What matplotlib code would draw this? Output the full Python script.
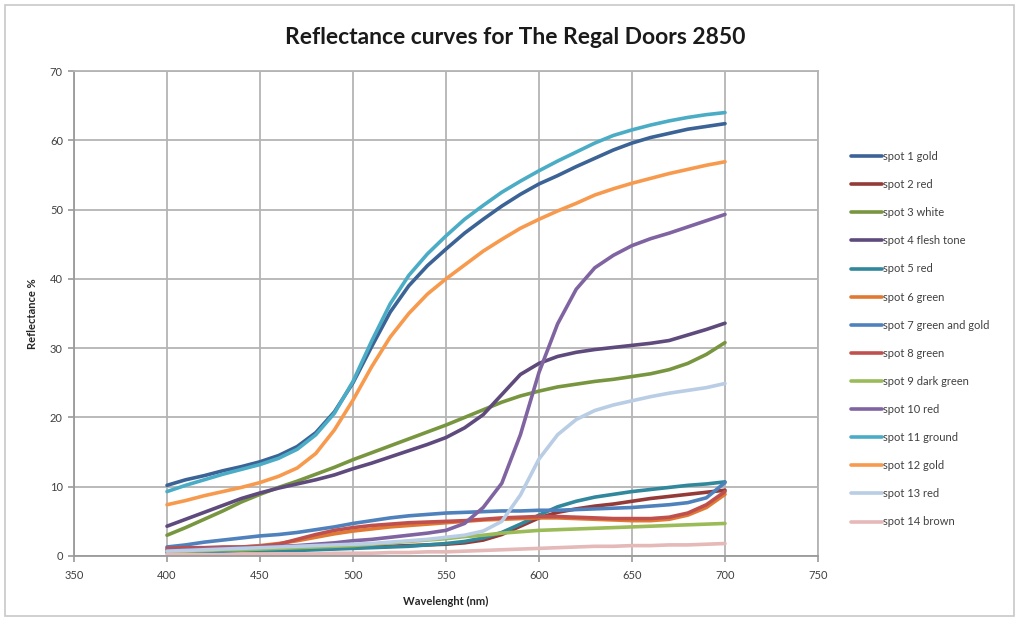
import matplotlib
matplotlib.use("Agg")
import matplotlib.pyplot as plt
from matplotlib.patches import Rectangle

plt.rcParams['font.family'] = ['Lato', 'DejaVu Sans']

# wavelengths (nm)
wl = list(range(400, 701, 10))

spot1 = [10.2, 11.0, 11.6, 12.3, 12.9, 13.6, 14.5, 15.8, 17.8, 20.8, 25.0, 30.2, 35.2, 39.0, 41.9, 44.3,
         46.6, 48.6, 50.5, 52.2, 53.7, 54.9, 56.2, 57.4, 58.6, 59.6, 60.4, 61.0, 61.6, 62.0, 62.4]
spot2 = [0.7, 0.7, 0.8, 0.8, 0.9, 0.9, 1.0, 1.0, 1.1, 1.1, 1.2, 1.3, 1.4, 1.5, 1.6, 1.7,
         1.9, 2.3, 3.1, 4.3, 5.5, 6.3, 6.8, 7.2, 7.5, 7.9, 8.3, 8.6, 8.9, 9.2, 9.5]
spot3 = [3.0, 4.1, 5.3, 6.5, 7.8, 8.9, 9.9, 10.8, 11.8, 12.8, 13.9, 14.9, 15.9, 16.9, 17.9, 18.9,
         20.0, 21.1, 22.2, 23.1, 23.8, 24.4, 24.8, 25.2, 25.5, 25.9, 26.3, 26.9, 27.8, 29.1, 30.8]
spot4 = [4.3, 5.3, 6.3, 7.3, 8.3, 9.1, 9.8, 10.4, 11.0, 11.7, 12.6, 13.4, 14.3, 15.2, 16.1, 17.1,
         18.5, 20.4, 23.3, 26.2, 27.8, 28.8, 29.4, 29.8, 30.1, 30.4, 30.7, 31.1, 31.9, 32.7, 33.6]
spot5 = [0.5, 0.5, 0.6, 0.6, 0.7, 0.7, 0.8, 0.8, 0.9, 1.0, 1.1, 1.2, 1.3, 1.4, 1.6, 1.8,
         2.1, 2.6, 3.4, 4.6, 5.9, 7.1, 7.9, 8.5, 8.9, 9.3, 9.6, 9.9, 10.2, 10.4, 10.7]
spot6 = [0.9, 1.0, 1.1, 1.2, 1.3, 1.5, 1.8, 2.2, 2.7, 3.2, 3.6, 3.9, 4.2, 4.4, 4.6, 4.8,
         5.0, 5.2, 5.3, 5.4, 5.5, 5.5, 5.4, 5.3, 5.2, 5.1, 5.1, 5.3, 5.9, 7.0, 8.9]
spot7 = [1.3, 1.6, 2.0, 2.3, 2.6, 2.9, 3.1, 3.4, 3.8, 4.2, 4.7, 5.1, 5.5, 5.8, 6.0, 6.2,
         6.3, 6.4, 6.5, 6.5, 6.6, 6.6, 6.7, 6.8, 6.9, 7.0, 7.2, 7.4, 7.7, 8.4, 10.6]
spot8 = [1.1, 1.2, 1.2, 1.3, 1.3, 1.4, 1.7, 2.4, 3.1, 3.7, 4.1, 4.4, 4.6, 4.8, 4.9, 5.0,
         5.1, 5.3, 5.5, 5.6, 5.7, 5.7, 5.6, 5.5, 5.4, 5.4, 5.4, 5.6, 6.2, 7.4, 9.3]
spot9 = [0.7, 0.7, 0.8, 0.9, 0.9, 1.0, 1.1, 1.2, 1.3, 1.4, 1.5, 1.7, 1.9, 2.1, 2.3, 2.5,
         2.8, 3.0, 3.3, 3.5, 3.7, 3.8, 3.9, 4.0, 4.1, 4.2, 4.3, 4.4, 4.5, 4.6, 4.7]
spot10 = [0.8, 0.9, 1.0, 1.1, 1.2, 1.3, 1.4, 1.5, 1.7, 1.9, 2.2, 2.4, 2.7, 3.0, 3.3, 3.7,
          4.7, 7.0, 10.5, 17.5, 26.5, 33.5, 38.5, 41.6, 43.4, 44.8, 45.8, 46.6, 47.5, 48.4, 49.3]
spot11 = [9.3, 10.2, 11.0, 11.8, 12.5, 13.2, 14.1, 15.4, 17.5, 20.6, 25.2, 31.0, 36.4, 40.5, 43.6, 46.2,
          48.6, 50.6, 52.5, 54.1, 55.6, 57.0, 58.3, 59.6, 60.7, 61.5, 62.2, 62.8, 63.3, 63.7, 64.0]
spot12 = [7.4, 8.0, 8.7, 9.3, 9.9, 10.6, 11.5, 12.7, 14.8, 18.2, 22.5, 27.3, 31.6, 35.0, 37.8, 40.0,
          42.0, 44.0, 45.7, 47.3, 48.6, 49.8, 50.9, 52.1, 53.0, 53.8, 54.5, 55.2, 55.8, 56.4, 56.9]
spot13 = [0.7, 0.8, 0.9, 1.0, 1.1, 1.2, 1.3, 1.4, 1.5, 1.6, 1.7, 1.8, 2.0, 2.2, 2.4, 2.7,
          3.0, 3.6, 5.0, 8.8, 14.0, 17.5, 19.7, 21.0, 21.8, 22.4, 23.0, 23.5, 23.9, 24.3, 24.9]
spot14 = [0.2, 0.2, 0.2, 0.2, 0.3, 0.3, 0.3, 0.3, 0.3, 0.4, 0.4, 0.4, 0.5, 0.5, 0.6, 0.6,
          0.7, 0.8, 0.9, 1.0, 1.1, 1.2, 1.3, 1.4, 1.4, 1.5, 1.5, 1.6, 1.6, 1.7, 1.8]

labels = ['spot 1 gold', 'spot 2 red', 'spot 3 white', 'spot 4 flesh tone', 'spot 5 red',
          'spot 6 green', 'spot 7 green and gold', 'spot 8 green', 'spot 9 dark green',
          'spot 10 red', 'spot 11 ground', 'spot 12 gold', 'spot 13 red', 'spot 14 brown']
colors = ['#3b6396', '#943a38', '#78963f', '#5e4a7c', '#31879c', '#e07a33',
          '#4f81bd', '#c0504d', '#9bbb59', '#8064a2', '#4bacc6', '#f79a4e',
          '#b9cde5', '#e4b9b8']
series = [spot1, spot2, spot3, spot4, spot5, spot6, spot7,
          spot8, spot9, spot10, spot11, spot12, spot13, spot14]

fig = plt.figure(figsize=(10.19, 6.21), dpi=100)
ax = fig.add_axes([74 / 1019, 1 - 556 / 621, 744 / 1019, 485 / 621])

for vals, c, lab in zip(series, colors, labels):
    ax.plot(wl, vals, color=c, lw=2.6, label=lab, solid_capstyle='round', solid_joinstyle='round')

ax.set_xlim(350, 750)
ax.set_ylim(0, 70)
ax.set_xticks(range(350, 751, 50))
ax.set_yticks(range(0, 71, 10))
ax.grid(True, color='#b4b4b4', lw=1.3)
ax.set_axisbelow(True)
for s in ['top', 'right']:
    ax.spines[s].set_color('#b4b4b4')
    ax.spines[s].set_linewidth(1.3)
for s in ['left', 'bottom']:
    ax.spines[s].set_color('#9a9a9a')
    ax.spines[s].set_linewidth(1.3)
ax.tick_params(axis='both', length=4, width=1.2, color='#9a9a9a', labelsize=8, labelcolor='#404040')
ax.tick_params(axis='x', pad=6)
ax.tick_params(axis='y', pad=4)

ax.set_xlabel('Wavelenght (nm)', fontsize=8, fontweight='bold', color='#262626')
ax.set_ylabel('Reflectance %', fontsize=8, fontweight='bold', color='#262626')
ax.xaxis.set_label_coords(0.5, -0.083)
ax.yaxis.set_label_coords(-0.048, 0.5)

fig.text(515 / 1019, 1 - 38 / 621, 'Reflectance curves for The Regal Doors 2850',
         ha='center', va='center', fontsize=16.5, fontweight='bold', color='#1a1a1a')

fig.legend(loc='upper left', bbox_to_anchor=(851 / 1019, 1 - 151 / 621), frameon=False,
           fontsize=8, labelspacing=1.54, handlelength=2.8, handletextpad=0.1,
           borderpad=0, borderaxespad=0, labelcolor='#404040')

fig.patches.append(Rectangle((0.005, 0.008), 0.99, 0.984, transform=fig.transFigure,
                             fill=False, edgecolor='#c8c8c8', lw=1.2))

fig.savefig('out.png', dpi=100)
